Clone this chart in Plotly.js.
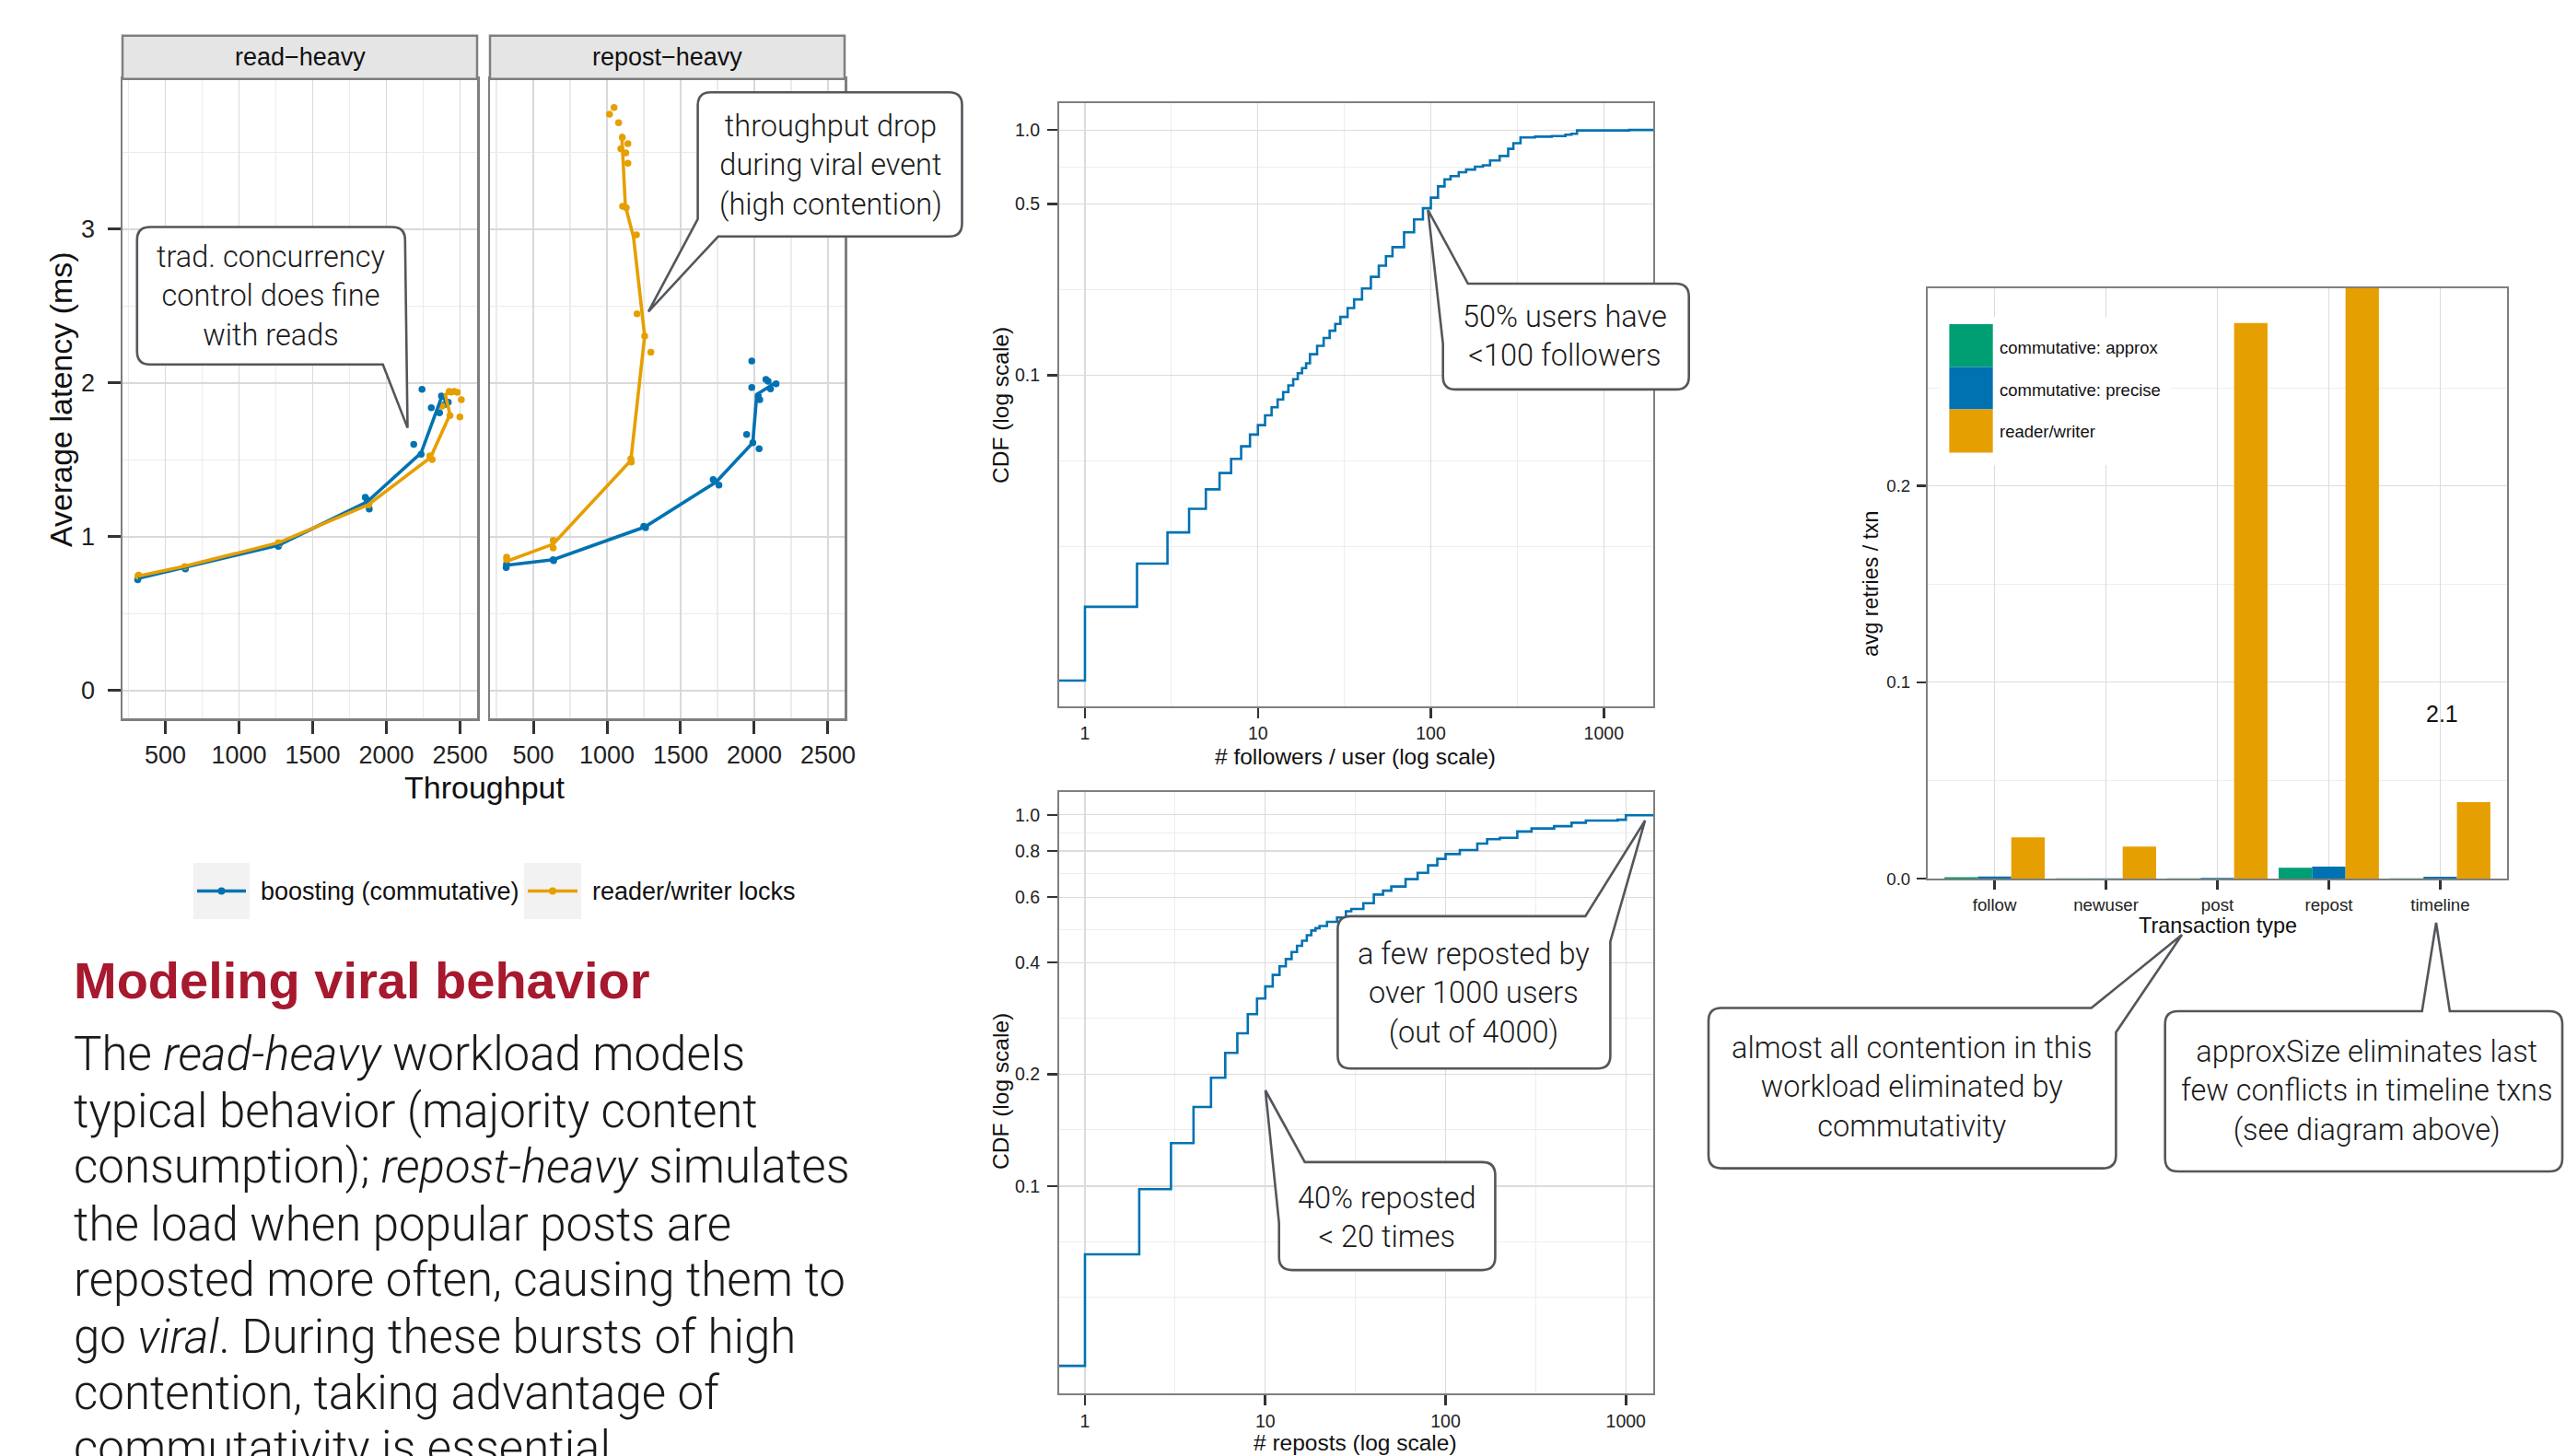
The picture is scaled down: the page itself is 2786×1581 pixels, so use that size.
<!DOCTYPE html>
<html><head><meta charset="utf-8">
<script src="https://cdn.plot.ly/plotly-3.0.1.min.js"></script>
<style>html,body{margin:0;padding:0;background:#fff;overflow:hidden}#chart{width:2786px;height:1581px;}</style>
</head><body><div id="chart"></div>
<script>
// ---------------- DATA ----------------
// Latency vs throughput (two facets)
const facetNames = ['read\u2212heavy', 'repost\u2212heavy'];
const seriesNames = ['boosting (commutative)', 'reader/writer locks'];
const throughputTicks = [500, 1000, 1500, 2000, 2500];
const latencyTicks = [0, 1, 2, 3];

const readBoostLineX = [316, 634, 1268, 1867, 2236, 2378, 2410];
const readBoostLineY = [0.73, 0.80, 0.945, 1.225, 1.545, 1.915, 1.875];
const readRwLineX = [316, 634, 1271, 1876, 2300, 2432, 2400, 2455, 2490];
const readRwLineY = [0.745, 0.808, 0.962, 1.208, 1.515, 1.795, 1.925, 1.945, 1.935];
const readBoostPtsX = [312, 318, 632, 636, 1267, 1272, 1857, 1870, 1884, 2186, 2236, 2242, 2305, 2361, 2374, 2395, 2420];
const readBoostPtsY = [0.72, 0.735, 0.797, 0.79, 0.937, 0.95, 1.256, 1.24, 1.18, 1.60, 1.536, 1.959, 1.839, 1.805, 1.915, 1.86, 1.875];
const readRwPtsX = [314, 318, 632, 1267, 1275, 1876, 1882, 2295, 2311, 2378, 2427, 2432, 2440, 2461, 2482, 2499, 2509];
const readRwPtsY = [0.745, 0.75, 0.805, 0.962, 0.955, 1.208, 1.21, 1.526, 1.502, 1.849, 1.945, 1.787, 1.94, 1.945, 1.939, 1.779, 1.891];

const repBoostLineX = [318, 635, 1256, 1740, 1990, 2017, 2100, 2140];
const repBoostLineY = [0.815, 0.851, 1.063, 1.355, 1.611, 1.925, 1.975, 2.0];
const repRwLineX = [319, 635, 1162, 1256, 1180, 1125, 1100];
const repRwLineY = [0.84, 0.952, 1.496, 2.304, 2.95, 3.15, 3.62];
const repBoostPtsX = [316, 318, 635, 638, 1250, 1262, 1721, 1760, 1948, 1983, 1983, 1990, 2027, 2033, 2037, 2079, 2094, 2110, 2148];
const repBoostPtsY = [0.80, 0.82, 0.851, 0.845, 1.067, 1.058, 1.372, 1.336, 1.665, 2.143, 1.971, 1.611, 1.915, 1.572, 1.891, 2.023, 2.011, 1.961, 1.995];
const repRwPtsX = [319, 319, 635, 635, 1162, 1165, 1204, 1256, 1298, 1200, 1106, 1131, 1142, 1094, 1128, 1142, 1104, 1079, 1017, 1048];
const repRwPtsY = [0.867, 0.85, 0.977, 0.927, 1.506, 1.486, 2.45, 2.304, 2.20, 2.963, 3.149, 3.139, 3.428, 3.522, 3.496, 3.556, 3.596, 3.692, 3.747, 3.791];

// CDF of followers per user
const followersX = [0.5, 1, 2, 3, 4, 5, 6, 7, 8, 9, 10, 11, 12, 13, 14, 15, 16, 17, 18, 19, 20, 22, 24, 26, 28, 30, 33, 36, 40, 45, 50, 55, 60, 70, 80, 90, 100, 110, 120, 130, 145, 160, 180, 200, 220, 250, 280, 300, 330, 400, 500, 600, 650, 700, 1400, 2500];
const followersCDF = [0.0057, 0.0114, 0.0171, 0.0229, 0.0286, 0.0343, 0.040, 0.0457, 0.0514, 0.0574, 0.0627, 0.0687, 0.0741, 0.0798, 0.0855, 0.091, 0.0965, 0.102, 0.107, 0.112, 0.122, 0.132, 0.142, 0.152, 0.162, 0.173, 0.188, 0.204, 0.226, 0.252, 0.28, 0.306, 0.333, 0.383, 0.432, 0.48, 0.53, 0.589, 0.629, 0.649, 0.673, 0.69, 0.709, 0.718, 0.751, 0.784, 0.838, 0.884, 0.932, 0.94, 0.945, 0.957, 0.965, 0.996, 1.0, 1.0];
// CDF of reposts
const repostsX = [0.5, 1, 2, 3, 4, 5, 6, 7, 8, 9, 10, 11, 12, 13, 14, 15, 16, 17, 18, 19, 20, 22, 25, 28, 30, 35, 40, 45, 50, 60, 70, 80, 90, 100, 120, 150, 170, 200, 250, 300, 400, 500, 600, 900, 1000, 2000];
const repostsCDF = [0.0328, 0.0655, 0.0981, 0.1306, 0.1634, 0.1959, 0.2285, 0.258, 0.2904, 0.320, 0.345, 0.3705, 0.391, 0.409, 0.427, 0.444, 0.458, 0.474, 0.488, 0.495, 0.502, 0.515, 0.529, 0.55, 0.558, 0.578, 0.61, 0.625, 0.641, 0.671, 0.698, 0.731, 0.761, 0.784, 0.804, 0.837, 0.86, 0.867, 0.902, 0.919, 0.932, 0.952, 0.965, 0.97, 0.997, 1.0];
const logXTicks = [1, 10, 100, 1000];
const followersYTicks = [0.1, 0.5, 1.0];
const repostsYTicks = [0.1, 0.2, 0.4, 0.6, 0.8, 1.0];

// Retries per transaction
const txnTypes = ['follow', 'newuser', 'post', 'repost', 'timeline'];
const barSeries = ['commutative: approx', 'commutative: precise', 'reader/writer'];
const retriesApprox = [0.0008, 0.0002, 0.0002, 0.0056, 0.0002];
const retriesPrecise = [0.0011, 0.0002, 0.0004, 0.0062, 0.001];
const retriesRW = [0.021, 0.0164, 0.283, 2.1, 0.039];
const retryTicks = [0.0, 0.1, 0.2];

// ---------------- LAYOUT HELPERS ----------------
const W = 2786, H = 1581;
const X = p => p / W;
const Y = p => 1 - p / H;
const P = (x, y) => X(x).toFixed(6) + ',' + Y(y).toFixed(6);
const BLUE = '#0072B2', ORANGE = '#E69F00', GREEN = '#009E73';
const CHART_FONT = 'Liberation Sans, Arial, Helvetica, sans-serif';
const LIGHT_FONT = 'Roboto, Lato, Liberation Sans, sans-serif';

function ax(o) {
  return Object.assign({
    showline: true, mirror: true, linecolor: '#7f7f7f', zeroline: false,
    ticks: 'outside', tickcolor: '#333', showgrid: true, fixedrange: true,
    tickfont: {family: CHART_FONT, color: '#222'}
  }, o);
}

// ---------------- TRACES ----------------
const traces = [];
function pts(x, y, color, xa, ya) {
  traces.push({type: 'scatter', mode: 'markers', x: x, y: y, xaxis: xa, yaxis: ya,
    marker: {color: color, size: 7.5}, hoverinfo: 'skip', cliponaxis: true});
}
function line(x, y, color, xa, ya, name) {
  traces.push({type: 'scatter', mode: 'lines', x: x, y: y, xaxis: xa, yaxis: ya, name: name,
    line: {color: color, width: 3.6}, hoverinfo: 'skip'});
}
pts(readBoostPtsX, readBoostPtsY, BLUE, 'x', 'y');
pts(readRwPtsX, readRwPtsY, ORANGE, 'x', 'y');
line(readBoostLineX, readBoostLineY, BLUE, 'x', 'y', seriesNames[0]);
line(readRwLineX, readRwLineY, ORANGE, 'x', 'y', seriesNames[1]);
pts(repBoostPtsX, repBoostPtsY, BLUE, 'x2', 'y2');
pts(repRwPtsX, repRwPtsY, ORANGE, 'x2', 'y2');
line(repBoostLineX, repBoostLineY, BLUE, 'x2', 'y2', seriesNames[0]);
line(repRwLineX, repRwLineY, ORANGE, 'x2', 'y2', seriesNames[1]);

traces.push({type: 'scatter', mode: 'lines', x: followersX, y: followersCDF, xaxis: 'x3', yaxis: 'y3',
  line: {color: BLUE, width: 2.6, shape: 'hv'}, hoverinfo: 'skip'});
traces.push({type: 'scatter', mode: 'lines', x: repostsX, y: repostsCDF, xaxis: 'x4', yaxis: 'y4',
  line: {color: BLUE, width: 2.6, shape: 'hv'}, hoverinfo: 'skip'});

[[retriesApprox, GREEN], [retriesPrecise, BLUE], [retriesRW, ORANGE]].forEach((s, i) => {
  traces.push({type: 'bar', x: txnTypes, y: s[0], name: barSeries[i], xaxis: 'x5', yaxis: 'y5',
    marker: {color: s[1], line: {width: 0}}, hoverinfo: 'skip'});
});

// ---------------- AXES ----------------
const thrX = {tickmode: 'array', tickvals: throughputTicks, ticktext: throughputTicks.map(String),
  linewidth: 2.5, ticklen: 14, tickwidth: 3, gridcolor: '#d9d9d9', gridwidth: 1.6,
  tickfont: {family: CHART_FONT, color: '#222', size: 27}, ticklabelstandoff: 0,
  minor: {tickmode: 'array', tickvals: [250, 750, 1250, 1750, 2250], showgrid: true, gridcolor: '#ebebeb', gridwidth: 1.2, ticks: ''}};
const latY = {tickmode: 'array', tickvals: latencyTicks, ticktext: latencyTicks.map(String), range: [-0.182, 3.976],
  linewidth: 2.5, ticklen: 14, tickwidth: 3, gridcolor: '#d9d9d9', gridwidth: 1.6,
  tickfont: {family: CHART_FONT, color: '#222', size: 27}, ticklabelstandoff: 8,
  minor: {tickmode: 'array', tickvals: [0.5, 1.5, 2.5, 3.5], showgrid: true, gridcolor: '#ebebeb', gridwidth: 1.2, ticks: ''}};

const cdfCommon = {type: 'log', linewidth: 2, ticklen: 11, tickwidth: 2.5, gridcolor: '#dcdcdc', gridwidth: 1.3,
  tickfont: {family: CHART_FONT, color: '#222', size: 19.5}, ticklabelstandoff: 0};
const cdfMinorX = {tickmode: 'array', tickvals: [3.162, 31.62, 316.2], showgrid: true, gridcolor: '#eeeeee', gridwidth: 1, ticks: ''};

const layout = {
  width: W, height: H, margin: {l: 0, r: 0, t: 0, b: 0},
  paper_bgcolor: '#fff', plot_bgcolor: '#fff', showlegend: false,
  font: {family: CHART_FONT, color: '#222'},
  barmode: 'group', bargap: 0.1, bargroupgap: 0,
  xaxis: ax(Object.assign({domain: [X(133), X(518)], range: [209, 2616], anchor: 'y'}, thrX)),
  yaxis: ax(Object.assign({domain: [Y(780.2), Y(85.8)], anchor: 'x'}, latY)),
  xaxis2: ax(Object.assign({domain: [X(532), X(917)], range: [206, 2613], anchor: 'y2'}, thrX)),
  yaxis2: ax(Object.assign({domain: [Y(780.2), Y(85.8)], anchor: 'x2'}, latY, {showticklabels: false, ticks: ''})),
  xaxis3: ax(Object.assign({domain: [X(1150), X(1795)], range: [-0.149, 3.286], anchor: 'y3',
    tickmode: 'array', tickvals: logXTicks, ticktext: logXTicks.map(String), minor: cdfMinorX}, cdfCommon)),
  yaxis3: ax(Object.assign({domain: [Y(767), Y(111.6)], range: [-2.349, 0.111], anchor: 'x3',
    tickmode: 'array', tickvals: followersYTicks, ticktext: followersYTicks.map(v => v.toFixed(1)),
    minor: {tickmode: 'array', tickvals: [0.02, 0.0448, 0.223, 0.706], showgrid: true, gridcolor: '#eeeeee', gridwidth: 1, ticks: ''}}, cdfCommon, {ticklabelstandoff: 4})),
  xaxis4: ax(Object.assign({domain: [X(1150), X(1795)], range: [-0.143, 3.152], anchor: 'y4',
    tickmode: 'array', tickvals: logXTicks, ticktext: logXTicks.map(String), minor: cdfMinorX}, cdfCommon)),
  yaxis4: ax(Object.assign({domain: [Y(1513.3), Y(860)], range: [-1.559, 0.0615], anchor: 'x4',
    tickmode: 'array', tickvals: repostsYTicks, ticktext: repostsYTicks.map(v => v.toFixed(1)),
    minor: {tickmode: 'array', tickvals: [0.0503, 0.0709, 0.142, 0.283, 0.49, 0.695, 0.895], showgrid: true, gridcolor: '#eeeeee', gridwidth: 1, ticks: ''}}, cdfCommon, {ticklabelstandoff: 4})),
  xaxis5: ax({type: 'category', domain: [X(2093), X(2722)], range: [-0.6, 4.6], anchor: 'y5',
    linewidth: 2, ticklen: 10, tickwidth: 2.5, gridcolor: '#dcdcdc', gridwidth: 1.2,
    tickfont: {family: CHART_FONT, color: '#222', size: 18.7}, ticklabelstandoff: 0}),
  yaxis5: ax({domain: [Y(954.1), Y(312.7)], range: [0, 0.3008], anchor: 'x5',
    tickmode: 'array', tickvals: retryTicks, ticktext: retryTicks.map(v => v.toFixed(1)),
    linewidth: 2, ticklen: 10, tickwidth: 2.5, gridcolor: '#dcdcdc', gridwidth: 1.2,
    tickfont: {family: CHART_FONT, color: '#222', size: 18.7}, ticklabelstandoff: 3,
    minor: {tickmode: 'array', tickvals: [0.05, 0.15, 0.25], showgrid: true, gridcolor: '#eeeeee', gridwidth: 1, ticks: ''}}),
  shapes: [], annotations: []
};

// ---------------- SHAPES ----------------
const S = layout.shapes;
function rect(x0, y0, x1, y1, fill, lineColor, lw, layer) {
  S.push({type: 'rect', xref: 'paper', yref: 'paper', x0: X(x0), x1: X(x1), y0: Y(y1), y1: Y(y0),
    fillcolor: fill, line: {color: lineColor || 'rgba(0,0,0,0)', width: lw || 0}, layer: layer || 'above'});
}
// facet strips
rect(133, 38.8, 518, 85.8, '#e5e5e5', '#7f7f7f', 2.5, 'above');
rect(532, 38.8, 917, 85.8, '#e5e5e5', '#7f7f7f', 2.5, 'above');
// chart A legend
[[210, 271, BLUE], [569, 631, ORANGE]].forEach(k => {
  rect(k[0], 937, k[1], 998, '#f2f2f2');
  S.push({type: 'line', xref: 'paper', yref: 'paper', x0: X(k[0] + 4), x1: X(k[1] - 4), y0: Y(967.5), y1: Y(967.5),
    line: {color: k[2], width: 3.6}, layer: 'above'});
  const c = (k[0] + k[1]) / 2;
  S.push({type: 'circle', xref: 'paper', yref: 'paper', x0: X(c - 4), x1: X(c + 4), y0: Y(971.5), y1: Y(963.5),
    fillcolor: k[2], line: {width: 0}, layer: 'above'});
});
// bar legend
rect(2106, 344, 2357, 505, '#ffffff');
rect(2116.4, 352, 2163.7, 398.5, GREEN);
rect(2116.4, 398.5, 2163.7, 444.5, BLUE);
rect(2116.4, 444.5, 2163.7, 491.5, ORANGE);

// callouts
const r = 14;
function callout(path) {
  S.push({type: 'path', xref: 'paper', yref: 'paper', path: path, fillcolor: '#ffffff',
    line: {color: '#53575b', width: 2.6}, layer: 'above'});
}
(function () {
  let L, R, T, B;
  // C1: pointer from right edge down to tip
  L = 148.8; R = 439.8; T = 246.5; B = 395.7;
  callout(`M${P(L + r, T)} L${P(R - r, T)} Q${P(R, T)} ${P(R, T + r)} L${P(442.5, 464.6)} L${P(415.7, B)} L${P(L + r, B)} Q${P(L, B)} ${P(L, B - r)} L${P(L, T + r)} Q${P(L, T)} ${P(L + r, T)} Z`);
  // C2: bottom-left pointer
  L = 757.6; R = 1044.5; T = 100.2; B = 256.8;
  callout(`M${P(L + r, T)} L${P(R - r, T)} Q${P(R, T)} ${P(R, T + r)} L${P(R, B - r)} Q${P(R, B)} ${P(R - r, B)} L${P(779.7, B)} L${P(704, 338.3)} L${P(L, 237.9)} L${P(L, T + r)} Q${P(L, T)} ${P(L + r, T)} Z`);
  // C3: top-left pointer
  L = 1566.7; R = 1833.7; T = 308; B = 422.9;
  callout(`M${P(1593.8, T)} L${P(R - r, T)} Q${P(R, T)} ${P(R, T + r)} L${P(R, B - r)} Q${P(R, B)} ${P(R - r, B)} L${P(L + r, B)} Q${P(L, B)} ${P(L, B - r)} L${P(L, 373.4)} L${P(1550.4, 228)} Z`);
  // C4: top-right pointer
  L = 1452.4; R = 1748.4; T = 994.9; B = 1160.3;
  callout(`M${P(L + r, T)} L${P(1721.3, T)} L${P(1786.1, 891)} L${P(R, 1022.3)} L${P(R, B - r)} Q${P(R, B)} ${P(R - r, B)} L${P(L + r, B)} Q${P(L, B)} ${P(L, B - r)} L${P(L, T + r)} Q${P(L, T)} ${P(L + r, T)} Z`);
  // C5: top-left pointer
  L = 1388.7; R = 1623.4; T = 1261.9; B = 1379.1;
  callout(`M${P(1416.7, T)} L${P(R - r, T)} Q${P(R, T)} ${P(R, T + r)} L${P(R, B - r)} Q${P(R, B)} ${P(R - r, B)} L${P(L + r, B)} Q${P(L, B)} ${P(L, B - r)} L${P(L, 1328)} L${P(1373.9, 1184)} Z`);
  // C6: top-right pointer
  L = 1855; R = 2297.4; T = 1094.5; B = 1268.6;
  callout(`M${P(L + r, T)} L${P(2270.7, T)} L${P(2369, 1015)} L${P(R, 1121)} L${P(R, B - r)} Q${P(R, B)} ${P(R - r, B)} L${P(L + r, B)} Q${P(L, B)} ${P(L, B - r)} L${P(L, T + r)} Q${P(L, T)} ${P(L + r, T)} Z`);
  // C7: top-centre pointer
  L = 2350.7; R = 2782; T = 1098; B = 1272;
  callout(`M${P(L + r, T)} L${P(2629.7, T)} L${P(2645, 1002)} L${P(2659.8, T)} L${P(R - r, T)} Q${P(R, T)} ${P(R, T + r)} L${P(R, B - r)} Q${P(R, B)} ${P(R - r, B)} L${P(L + r, B)} Q${P(L, B)} ${P(L, B - r)} L${P(L, T + r)} Q${P(L, T)} ${P(L + r, T)} Z`);
})();

// ---------------- TEXT ----------------
const A = layout.annotations;
function txt(text, x, y, size, opts) {
  A.push(Object.assign({xref: 'paper', yref: 'paper', x: X(x), y: Y(y), text: text, showarrow: false,
    xanchor: 'center', yanchor: 'middle', font: {family: CHART_FONT, size: size, color: '#111'}}, opts || {}));
}
// chart A
txt(facetNames[0], 325.5, 62.3, 27);
txt(facetNames[1], 724.5, 62.3, 27);
txt('Average latency (ms)', 66, 434, 34, {textangle: -90});
txt('Throughput', 526, 855, 34);
txt(seriesNames[0], 281, 967.5, 27, {xanchor: 'left'});
txt(seriesNames[1], 641, 967.5, 27, {xanchor: 'left'});
// CDF charts
txt('CDF (log scale)', 1086, 440, 24.5, {textangle: -90});
txt('# followers / user (log scale)', 1471, 821, 24.5);
txt('CDF (log scale)', 1086, 1185, 24.5, {textangle: -90});
txt('# reposts (log scale)', 1471, 1566, 24.5);
// bar chart
txt('avg retries / txn', 2031, 634, 23.2, {textangle: -90});
txt('Transaction type', 2407.6, 1005, 23.4);
txt(barSeries[0], 2169, 377.5, 18.5, {xanchor: 'left'});
txt(barSeries[1], 2169, 423, 18.5, {xanchor: 'left'});
txt(barSeries[2], 2169, 468.5, 18.5, {xanchor: 'left'});
txt('2.1', 2651, 774.7, 25);

// callout texts
const cf = {family: LIGHT_FONT, size: 32.5, color: '#1a1a1a', weight: 300};
function ctext(t, x, y) { txt(t, x, y, 32.5, {font: cf}); }
ctext('trad. concurrency<br>control does fine<br>with reads', 293.6, 321.5);
ctext('throughput drop<br>during viral event<br>(high contention)', 901.7, 179.7);
ctext('50% users have<br>&lt;100 followers', 1699.4, 364.7);
ctext('a few reposted by<br>over 1000 users<br>(out of 4000)', 1600.4, 1078);
ctext('40% reposted<br>&lt; 20 times', 1506, 1321.8);
ctext('almost all contention in this<br>workload eliminated by<br>commutativity', 2075.3, 1180.7);
ctext('approxSize eliminates last<br>few conflicts in timeline txns<br>(see diagram above)', 2569.3, 1184);

// title and body text
txt('Modeling viral behavior', 78, 1064, 56, {xanchor: 'left', font: {family: CHART_FONT, size: 56, color: '#A6192E', weight: 'bold'}});
const bodyLines = [
  'The <i>read-heavy</i> workload models',
  'typical behavior (majority content',
  'consumption); <i>repost-heavy</i> simulates',
  'the load when popular posts are',
  'reposted more often, causing them to',
  'go <i>viral</i>. During these bursts of high',
  'contention, taking advantage of',
  'commutativity is essential.'
];
const bodyY = [1144.3, 1206.4, 1266.9, 1329, 1389.5, 1451.6, 1512, 1572.5];
bodyLines.forEach((t, i) => txt(t, 78, bodyY[i], 51, {xanchor: 'left', font: {family: LIGHT_FONT, size: 51, color: '#1a1a1a', weight: 300}}));

Plotly.newPlot('chart', traces, layout, {staticPlot: true, displayModeBar: false});
</script></body></html>
